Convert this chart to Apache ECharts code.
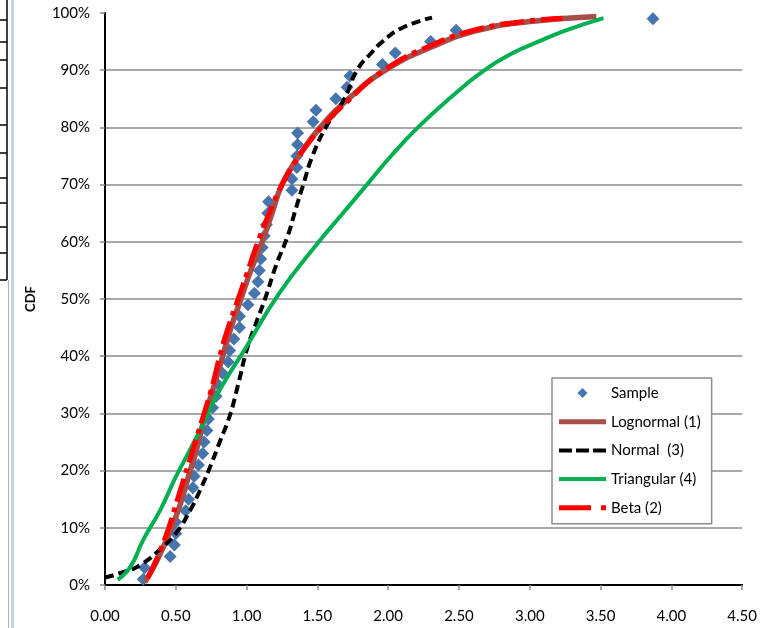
<!DOCTYPE html>
<html>
<head>
<meta charset="utf-8">
<script src="https://cdn.jsdelivr.net/npm/echarts@6/dist/echarts.min.js"></script>
<style>
  html, body { margin: 0; padding: 0; background: #fff; }
  #chart { width: 760px; height: 628px; }
</style>
</head>
<body>
<div id="chart"></div>
<script>
// sample points (x value, cdf %)
const sampleX = [0.27, 0.28, 0.46, 0.49, 0.50, 0.50, 0.57, 0.59, 0.62, 0.63,
  0.66, 0.69, 0.70, 0.72, 0.73, 0.76, 0.785, 0.80, 0.83, 0.87,
  0.88, 0.91, 0.95, 0.95, 1.01, 1.055, 1.08, 1.09, 1.10, 1.11,
  1.125, 1.14, 1.15, 1.155, 1.32, 1.32, 1.355, 1.355, 1.36, 1.36,
  1.47, 1.49, 1.63, 1.71, 1.73, 1.96, 2.05, 2.30, 2.48, 3.87]
const sampleCdf = [1, 3, 5, 7, 9, 11, 13, 15, 17, 19,
  21, 23, 25, 27, 29, 31, 33, 35, 37, 39,
  41, 43, 45, 47, 49, 51, 53, 55, 57, 59,
  61, 63, 65, 67, 69, 71, 73, 75, 77, 79,
  81, 83, 85, 87, 89, 91, 93, 95, 97, 99]

// fitted curves
const lognormalX = [0.28, 0.33, 0.40, 0.47, 0.53, 0.59, 0.65, 0.70, 0.76, 0.82, 0.89, 0.96,
  1.03, 1.11, 1.18, 1.25, 1.37, 1.52, 1.72, 1.98, 2.30, 2.64, 3.00, 3.47]
const lognormalCdf = [0.5, 2.5, 6, 10, 14, 19, 24, 29, 34, 39, 45, 50,
  55, 60, 65, 70, 75, 80, 85, 90, 94, 97, 98.5, 99.4]

const normalX = [0.00, 0.11, 0.25, 0.40, 0.50, 0.60, 0.67, 0.74, 0.81, 0.88, 0.94, 1.00,
  1.07, 1.13, 1.21, 1.29, 1.35, 1.40, 1.465, 1.56, 1.69, 1.78, 1.88, 1.96, 2.09, 2.31]
const normalCdf = [1.3, 2.1, 3.5, 6.5, 9, 13, 16.5, 20.5, 25, 29.5, 35, 41,
  46, 50, 56, 61, 66, 70, 75, 80, 85, 90, 93, 95, 97.3, 99.2]

const triangularX = [0.09, 0.18, 0.27, 0.39, 0.50, 0.60, 0.69, 0.81, 1.00, 1.23, 1.51, 1.68,
  1.85, 2.02, 2.21, 2.43, 2.68, 2.88, 3.06, 3.26, 3.52]
const triangularCdf = [0.9, 3.2, 7.9, 13.1, 18.9, 23.6, 28, 34.1, 41.7, 51, 60, 65,
  70, 75, 80, 85, 90, 93, 95, 97, 99.1]

const betaX = [0.30, 0.34, 0.39, 0.45, 0.50, 0.55, 0.60, 0.65, 0.70, 0.76, 0.81, 0.87, 0.94,
  1.01, 1.08, 1.16, 1.25, 1.37, 1.53, 1.73, 1.97, 2.29, 2.64, 2.99, 3.23]
const betaCdf = [1.2, 3.2, 6, 10, 14, 18, 22, 26, 30, 35, 40, 45, 50,
  55, 60, 65, 70, 75, 80, 85, 90, 94.2, 97.2, 98.6, 99.1]

const xTicks = [0, 4.5, 0.5]
const yTicks = [0, 100, 10]

const pairs = (xs, ys) => xs.map((x, i) => [x, ys[i]])

const FONT = 'Lato'
const GRID_GREY = '#8c8c8c'

const chart = echarts.init(document.getElementById('chart'))

// bits of the spreadsheet visible at the left edge
const edge = [
  { type: 'rect', shape: { x: 11, y: 0, width: 3, height: 628 }, style: { fill: '#c3d5e4' }, silent: true },
  { type: 'line', shape: { x1: 7, y1: 0, x2: 7, y2: 280 }, style: { stroke: '#000', lineWidth: 1.5 }, silent: true },
  { type: 'line', shape: { x1: 8.5, y1: 280, x2: 8.5, y2: 628 }, style: { stroke: '#b0b0b0', lineWidth: 1 }, silent: true }
]
;[20, 42, 60, 88, 125, 153, 178, 203, 227, 253, 280].forEach(y => {
  edge.push({ type: 'line', shape: { x1: 0, y1: y, x2: 7, y2: y }, style: { stroke: '#000', lineWidth: 1.5 }, silent: true })
})

// legend glyphs, drawn like the spreadsheet ones
const icons = {
  diamond: 'path://M5,0L10,5L5,10L0,5Z',
  thick: 'path://M0,0H47V5H0Z',
  dashes: 'path://M0,0H13V4H0Z M17,0H30V4H17Z M34,0H47V4H34Z',
  thin: 'path://M0,0H47V4H0Z',
  dashDot: 'path://M0,0H32V5H0Z M42,0H47V5H42Z'
}

chart.setOption({
  animation: false,
  backgroundColor: '#fff',
  textStyle: { fontFamily: FONT },
  graphic: edge,
  grid: { left: 105, right: 15, top: 13, bottom: 43 },
  legend: {
    orient: 'vertical',
    left: 552,
    top: 378,
    padding: [7, 11, 8, 7],
    itemWidth: 47,
    itemHeight: 10,
    itemGap: 12.7,
    borderColor: '#8c8c8c',
    borderWidth: 1.5,
    backgroundColor: '#fff',
    itemStyle: { borderWidth: 0, opacity: 1 },
    textStyle: { fontFamily: FONT, fontSize: 15, color: '#000', lineHeight: 16 },
    data: [
      { name: 'Sample', icon: icons.diamond },
      { name: 'Lognormal (1)', icon: icons.thick },
      { name: 'Normal  (3)', icon: icons.dashes },
      { name: 'Triangular (4)', icon: icons.thin },
      { name: 'Beta (2)', icon: icons.dashDot }
    ]
  },
  xAxis: [
    {
      type: 'value',
      min: xTicks[0],
      max: xTicks[1],
      interval: xTicks[2],
      axisLine: { show: true, lineStyle: { color: GRID_GREY, width: 2 } },
      axisTick: { show: true, length: 5, lineStyle: { color: GRID_GREY, width: 1.5 } },
      axisLabel: { margin: 24, fontSize: 15, color: '#000', fontFamily: FONT, formatter: v => v.toFixed(2) },
      splitLine: { show: false }
    },
    {
      type: 'value',
      position: 'top',
      min: xTicks[0],
      max: xTicks[1],
      axisLine: { show: true, lineStyle: { color: '#000', width: 2 } },
      axisTick: { show: false },
      axisLabel: { show: false },
      splitLine: { show: false }
    }
  ],
  yAxis: [
    {
      type: 'value',
      min: yTicks[0],
      max: yTicks[1],
      interval: yTicks[2],
      name: 'CDF',
      nameLocation: 'middle',
      nameGap: 68,
      nameRotate: 90,
      nameTextStyle: { fontFamily: FONT, fontSize: 13, fontWeight: 'bold', color: '#000' },
      axisLine: { show: true, lineStyle: { color: GRID_GREY, width: 2 } },
      axisTick: { show: true, length: 5, lineStyle: { color: GRID_GREY, width: 1.5 } },
      axisLabel: { margin: 15, fontSize: 15, color: '#000', fontFamily: FONT, formatter: '{value}%' },
      splitLine: { show: true, showMinLine: false, showMaxLine: false, lineStyle: { color: GRID_GREY, width: 1.5 } }
    },
    {
      type: 'value',
      position: 'right',
      min: yTicks[0],
      max: yTicks[1],
      axisLine: { show: true, lineStyle: { color: '#000', width: 2 } },
      axisTick: { show: false },
      axisLabel: { show: false },
      splitLine: { show: false }
    }
  ],
  series: [
    {
      name: 'Sample',
      type: 'scatter',
      symbol: 'diamond',
      symbolSize: 13,
      itemStyle: { color: '#4675AE', opacity: 1 },
      data: pairs(sampleX, sampleCdf),
      z: 2
    },
    {
      name: 'Lognormal (1)',
      type: 'line',
      smooth: true,
      showSymbol: false,
      symbol: 'none',
      lineStyle: { color: '#A84E49', width: 5.5 },
      itemStyle: { color: '#A84E49' },
      data: pairs(lognormalX, lognormalCdf),
      z: 3
    },
    {
      name: 'Normal  (3)',
      type: 'line',
      smooth: true,
      showSymbol: false,
      symbol: 'none',
      lineStyle: { color: '#000', width: 4, type: [9, 5] },
      itemStyle: { color: '#000' },
      data: pairs(normalX, normalCdf),
      z: 4
    },
    {
      name: 'Triangular (4)',
      type: 'line',
      smooth: true,
      showSymbol: false,
      symbol: 'none',
      lineStyle: { color: '#00B050', width: 4 },
      itemStyle: { color: '#00B050' },
      data: pairs(triangularX, triangularCdf),
      z: 5
    },
    {
      name: 'Beta (2)',
      type: 'line',
      smooth: true,
      showSymbol: false,
      symbol: 'none',
      lineStyle: { color: '#FF0000', width: 5, type: [24, 6, 5, 6] },
      itemStyle: { color: '#FF0000' },
      data: pairs(betaX, betaCdf),
      z: 6
    }
  ]
})
</script>
</body>
</html>
